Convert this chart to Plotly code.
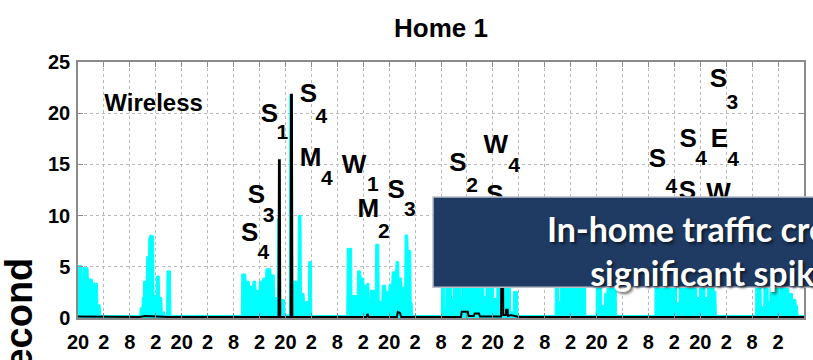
import plotly.graph_objects as go

# ---- traffic samples (hours since 20:00 on day 1, rate) ----
wireless_t = [
    0, 0.9, 1.0, 1.15, 2.3, 2.4, 3.3, 3.4, 4.5, 4.6, 5.1, 5.3,
    14.3, 14.4, 14.8, 14.9, 15.1, 15.2, 15.8, 15.9, 16.3, 16.4, 16.7, 17.5, 17.6, 18.1, 18.2, 18.8,
    18.9, 19.4, 19.5, 20.0, 20.1, 20.5, 20.6, 21.4, 21.5,
    37.8, 37.9, 38.8, 38.9, 39.6, 39.7, 40.4, 40.5, 41.1, 41.2, 41.9, 42.0, 42.7, 42.8, 43.4, 43.5,
    44.6, 44.7, 45.4, 45.5, 46.1, 46.2, 46.8, 46.9, 47.8, 47.9, 48.9, 49.0, 49.6, 49.7, 50.9, 51.0,
    51.6, 51.7, 52.3, 52.4, 53.3, 53.4, 54.0, 54.1,
    62.2, 62.3, 63.3, 63.4, 64.6, 64.7, 65.4, 65.5, 66.1, 66.2, 66.8, 66.9, 67.3, 67.4, 67.6, 67.7,
    68.8, 68.9, 69.6, 69.7, 70.3, 70.4, 71.2, 71.3, 71.9, 72.0, 72.6, 72.7, 73.5, 73.6, 74.2, 74.3,
    74.9, 75.0, 75.6, 75.7, 76.3, 76.4, 77.0, 77.1, 77.3, 77.4,
    84.1, 84.2, 84.7, 84.8, 85.1, 85.2, 86.4, 86.5, 86.9, 87.0, 88.4, 88.5, 88.8, 88.9, 91.0, 91.1,
    93.8, 93.9, 94.4, 94.5, 96.1, 96.2, 96.9, 97.0, 100.0, 100.1, 100.7, 100.8, 101.7, 101.8,
    110.4, 110.5, 111.1, 111.2, 111.6, 111.7, 114.1, 114.2, 114.4, 114.5, 116.2, 116.3, 116.5, 116.6,
    117.4, 117.5, 119.9, 120.0, 121.1, 121.2, 121.8, 121.9, 122.4, 122.5, 124.5, 124.6,
    133.5, 133.6, 138.4, 138.5, 139.1, 139.2, 143.1, 143.2, 143.8, 143.9, 145.0, 145.1, 145.7, 145.8,
    147.1, 147.2, 147.6, 147.7,
    156.8, 156.9, 158.0, 158.1, 158.7, 158.8, 159.6, 159.7, 160.1, 160.2, 162.1, 162.2, 162.4, 162.5,
    163.7, 163.8, 163.9, 164.0, 164.4, 164.5, 165.3, 165.4, 166.1, 166.2, 166.5, 166.6, 168.0,
]
wireless_v = [
    5.1, 5.1, 2.6, 4.9, 4.9, 3.8, 3.8, 3.4, 3.4, 1.3, 1.3, 0.25,
    0.25, 1.0, 1.0, 2.0, 2.0, 3.6, 3.6, 6.0, 6.0, 7.8, 8.1, 8.0, 2.2, 2.2, 4.1, 4.1,
    2.0, 2.0, 0.6, 0.6, 0.25, 0.25, 4.6, 4.6, 0.25,
    0.25, 4.3, 4.3, 3.6, 3.6, 3.1, 3.1, 3.6, 3.6, 2.7, 2.7, 3.6, 3.6, 3.9, 3.9, 4.8,
    4.8, 4.2, 4.2, 2.0, 2.0, 9.7, 9.7, 1.8, 1.8, 0.3, 0.3, 21.8, 21.8, 3.6, 3.6, 10.0,
    10.0, 2.4, 2.4, 1.6, 1.6, 5.5, 5.5, 0.25,
    0.25, 6.8, 6.8, 2.2, 2.2, 4.6, 4.6, 3.9, 3.9, 3.2, 3.2, 3.4, 3.4, 2.0, 2.0, 2.7,
    2.7, 7.2, 7.2, 1.6, 1.6, 3.2, 3.2, 2.6, 2.6, 3.3, 3.3, 4.5, 4.5, 5.5, 5.5, 3.9,
    3.9, 3.0, 3.0, 8.1, 8.1, 6.6, 6.6, 1.5, 1.5, 0.25,
    0.25, 6.5, 6.5, 0.9, 0.9, 7.8, 7.8, 1.9, 1.9, 9.2, 9.2, 2.1, 2.1, 6.0, 6.0, 8.4,
    8.4, 2.1, 2.1, 10.3, 10.3, 1.9, 1.9, 7.1, 7.1, 0.6, 0.6, 2.6, 2.6, 0.25,
    0.25, 6.2, 6.2, 1.6, 1.6, 8.0, 8.0, 2.2, 2.2, 5.6, 5.6, 2.4, 2.4, 7.4,
    7.4, 0.25, 0.25, 6.9, 6.9, 1.2, 1.2, 2.4, 2.4, 5.3, 5.3, 0.25,
    0.25, 7.6, 7.6, 1.5, 1.5, 9.0, 9.0, 2.0, 2.0, 6.3, 6.3, 2.0, 2.0, 8.2,
    8.2, 2.6, 2.6, 0.25,
    0.25, 5.8, 5.8, 1.1, 1.1, 8.6, 8.6, 1.6, 1.6, 6.9, 6.9, 2.0, 2.0, 7.7,
    7.7, 2.2, 2.2, 4.4, 4.4, 2.4, 2.4, 1.8, 1.8, 1.2, 1.2, 0.25, 0.25,
]

spike_t = [
    0, 5.5, 14.3, 15.5, 21.0, 46.4, 46.5, 46.7, 46.8, 49.2, 49.3, 49.5, 49.6,
    66.8, 67.0, 67.3, 73.8, 74.0, 74.5, 74.8, 88.6, 88.8, 90.2, 90.4, 91.6, 91.8, 92.8, 93.0,
    97.9, 98.0, 98.3, 98.4, 99.0, 99.1, 99.4, 99.5, 100.2, 102.0, 168.0,
]
spike_v = [
    0.15, 0.15, 0.1, 0.2, 0.1, 0.1, 15.4, 15.4, 0.1, 0.1, 21.8, 21.8, 0.1,
    0.1, 0.4, 0.1, 0.1, 0.6, 0.5, 0.1, 0.1, 0.6, 0.6, 0.2, 0.2, 0.45, 0.45, 0.15,
    0.15, 9.0, 9.0, 0.3, 0.3, 0.8, 0.8, 0.2, 0.3, 0.1, 0.1,
]

# ---- axis ticks ----
tick_hours = list(range(0, 169, 6))
tick_labels = ["20", "2", "8", "2", "20", "2", "8", "2", "20", "2", "8", "2", "20", "2", "8",
               "2", "20", "2", "8", "2", "20", "2", "8", "2", "20", "2", "8", "2", "20"]
y_ticks = [0, 5, 10, 15, 20, 25]

# ---- device event labels (letter + subscript) ----
label_text = ["S", "S", "S", "S", "M", "W", "M", "S", "S", "W", "S", "S", "S", "E", "S", "S", "W"]
label_h = [39.7, 41.3, 44.3, 53.3, 53.8, 63.9, 67.2, 73.6, 87.9, 96.7, 96.5,
           148.2, 141.2, 148.4, 134.1, 141.0, 148.2]
label_v = [8.2, 11.9, 19.8, 21.7, 15.5, 14.8, 10.5, 12.4, 15.0, 16.7, 11.9,
           23.2, 17.3, 17.3, 15.4, 12.3, 12.1]
sub_text = ["4", "3", "1", "4", "4", "1", "2", "3", "2", "4", "3", "4", "4", "4"]
sub_h = [42.9, 44.1, 47.3, 56.3, 57.6, 68.2, 70.8, 76.8, 91.2, 100.9, 151.4, 144.2, 151.6, 137.3]
sub_v = [6.3, 9.9, 18.0, 19.6, 13.5, 12.9, 8.3, 10.5, 12.8, 14.8, 20.9, 15.5, 15.4, 12.7]

SANS = "Liberation Sans, Arial, sans-serif"
FRAME = "#8a8a8a"

fig = go.Figure()
fig.add_trace(go.Scatter(
    x=wireless_t, y=wireless_v, mode="lines", fill="tozeroy",
    line=dict(color="#00ffff", width=1), fillcolor="#00ffff", hoverinfo="skip",
))
fig.add_trace(go.Scatter(
    x=spike_t, y=spike_v, mode="lines",
    line=dict(color="#000000", width=2), hoverinfo="skip",
))
fig.add_trace(go.Scatter(
    x=label_h, y=label_v, mode="text", text=label_text, textposition="middle center",
    textfont=dict(family=SANS, size=26, color="#000000", weight="bold"),
    cliponaxis=False, hoverinfo="skip",
))
fig.add_trace(go.Scatter(
    x=sub_h, y=sub_v, mode="text", text=sub_text, textposition="middle center",
    textfont=dict(family=SANS, size=21, color="#000000", weight="bold"),
    cliponaxis=False, hoverinfo="skip",
))
fig.add_trace(go.Scatter(
    x=[17.5], y=[20.8], mode="text", text=["Wireless"], textposition="middle center",
    textfont=dict(family=SANS, size=24, color="#000000", weight="bold"),
    cliponaxis=False, hoverinfo="skip",
))

axis_common = dict(
    showline=True, linecolor=FRAME, linewidth=1.5, mirror="ticks",
    ticks="inside", ticklen=5, tickcolor=FRAME, tickwidth=1,
    showgrid=True, gridcolor="#b8b8b8", griddash="dot", gridwidth=1,
    zeroline=False, fixedrange=True,
)
fig.update_xaxes(
    range=[0, 168], tickmode="array", tickvals=tick_hours, ticktext=tick_labels,
    tickfont=dict(family=SANS, size=20, color="#000000", weight="bold"),
    ticklabelstandoff=5, **axis_common,
)
fig.update_yaxes(
    range=[0, 25], tickmode="array", tickvals=y_ticks,
    tickfont=dict(family=SANS, size=20, color="#000000", weight="bold"),
    ticklabelstandoff=2, **axis_common,
)

# callout box with message
fig.add_shape(
    type="rect", xref="paper", yref="paper",
    x0=0.489, x1=1.06, y0=0.12, y1=0.473, layer="above",
    fillcolor="#1f3b63", line=dict(color="#b9bec8", width=1.5),
)
fig.add_annotation(
    xref="paper", yref="paper", x=0.643, y=0.262, xanchor="left", yanchor="middle",
    text="In-home traffic creates<br>significant spikes", align="center", showarrow=False,
    font=dict(family="Lato, Calibri, sans-serif", size=34, color="#ffffff", weight="bold",
              shadow="2px 2px 3px rgba(0,0,0,0.6)"),
)
fig.add_annotation(
    xref="paper", yref="paper", x=-0.081, y=0.243, xanchor="center", yanchor="top",
    text="Kbits per second", textangle=-90, showarrow=False,
    font=dict(family=SANS, size=38, color="#000000", weight="bold"),
)

fig.update_layout(
    width=813, height=360,
    margin=dict(l=78, r=7, t=62, b=40),
    paper_bgcolor="#ffffff", plot_bgcolor="#ffffff",
    showlegend=False,
    title=dict(text="Home 1", x=0.5, xref="paper", xanchor="center", y=1 - 28 / 360, yanchor="middle",
               font=dict(family=SANS, size=26, color="#000000", weight="bold")),
)

fig.write_html("out.html")
